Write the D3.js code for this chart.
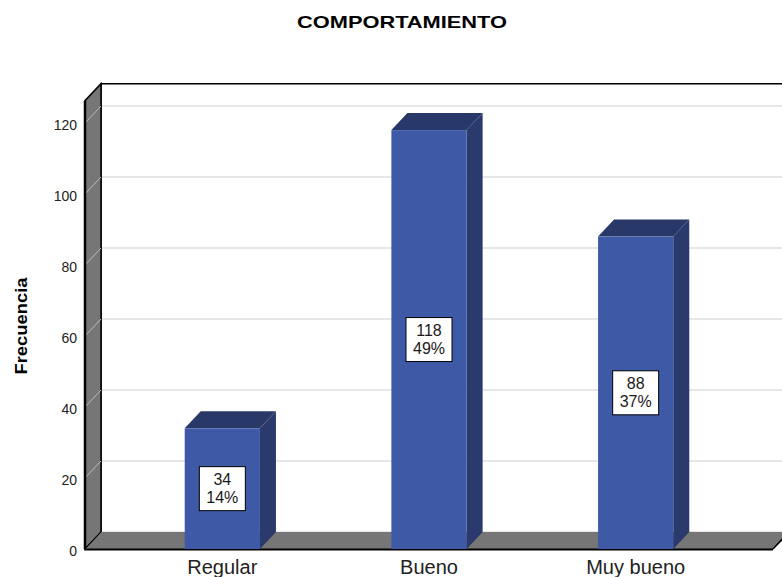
<!DOCTYPE html>
<html>
<head>
<meta charset="utf-8">
<script src="https://cdn.jsdelivr.net/npm/d3@7"></script>
<style>
  body { margin: 0; background: #fff; }
  svg { display: block; font-family: "Liberation Sans", Arial, sans-serif; }
</style>
</head>
<body>
<div id="chart"></div>
<script>
// data
const categories = ["Regular", "Bueno", "Muy bueno"];
const counts = [34, 118, 88];
const percents = ["14%", "49%", "37%"];
const yTicks = [0, 20, 40, 60, 80, 100, 120];

const width = 782, height = 577;
const depthX = 16, depthY = 17;
const left = 85, floorY = 549;

const svg = d3.select("#chart").append("svg")
  .attr("width", width)
  .attr("height", height);

// front-plane scale
const y = d3.scaleLinear().domain([0, 120]).range([floorY, 123]);
const yTop = 126.3;
const x = d3.scaleBand().domain(categories).range([119, 739]).paddingInner(0.636).paddingOuter(0.318);

// back wall
const backLeft = left + depthX;
svg.append("rect")
  .attr("x", backLeft).attr("y", y(yTop) - depthY)
  .attr("width", width + 20 - backLeft).attr("height", y(0) - y(yTop))
  .attr("fill", "#fff");

// grid on back wall
svg.append("g").selectAll("line")
  .data(yTicks)
  .join("line")
  .attr("x1", backLeft).attr("x2", width + 20)
  .attr("y1", d => y(d) - depthY).attr("y2", d => y(d) - depthY)
  .attr("stroke", "#cfcfcf").attr("stroke-width", 1.2);

// top and left border of back wall
svg.append("path")
  .attr("d", `M${backLeft},${y(0) - depthY}V${y(yTop) - depthY}H${width + 20}`)
  .attr("fill", "none").attr("stroke", "#000").attr("stroke-width", 1.5);

// left wall
svg.append("path")
  .attr("d", `M${left},${y(0)}L${left},${y(yTop)}L${backLeft},${y(yTop) - depthY}L${backLeft},${y(0) - depthY}Z`)
  .attr("fill", "#767676").attr("stroke", "#000").attr("stroke-width", 1.5);

svg.append("g").selectAll("line")
  .data(yTicks.filter(d => d > 0))
  .join("line")
  .attr("x1", left).attr("x2", backLeft)
  .attr("y1", d => y(d)).attr("y2", d => y(d) - depthY)
  .attr("stroke", "#bdbdbd").attr("stroke-width", 1);

svg.append("line")
  .attr("x1", left).attr("x2", left)
  .attr("y1", y(yTop)).attr("y2", y(0))
  .attr("stroke", "#000").attr("stroke-width", 2.5);

// floor
svg.append("path")
  .attr("d", `M${left},${y(0)}L${backLeft},${y(0) - depthY}L${width + 10},${y(0) - depthY}L${773},${y(0)}Z`)
  .attr("fill", "#767676");
svg.append("path")
  .attr("d", `M${left},${y(0)}L${backLeft},${y(0) - depthY}`)
  .attr("stroke", "#000").attr("stroke-width", 1);
svg.append("line")
  .attr("x1", left).attr("x2", 773)
  .attr("y1", y(0) + 0.5).attr("y2", y(0) + 0.5)
  .attr("stroke", "#000").attr("stroke-width", 2);
svg.append("line")
  .attr("x1", 773).attr("x2", 773 + depthX)
  .attr("y1", y(0)).attr("y2", y(0) - depthY)
  .attr("stroke", "#000").attr("stroke-width", 1.5);

// y tick labels
svg.append("g").selectAll("text")
  .data(yTicks)
  .join("text")
  .attr("x", 77).attr("y", d => y(d) + 3)
  .attr("text-anchor", "end").attr("dominant-baseline", "middle")
  .attr("font-size", 14).attr("fill", "#222")
  .text(d => d);

// bars
const bars = svg.append("g").selectAll("g")
  .data(categories)
  .join("g");

bars.append("path")
  .attr("d", (d, i) => {
    const x1 = x(d) + x.bandwidth(), t = y(counts[i]);
    return `M${x1},${t}L${x1 + depthX},${t - depthY}L${x1 + depthX},${y(0) - depthY}L${x1},${y(0)}Z`;
  })
  .attr("fill", "#2a3a6c");

bars.append("path")
  .attr("d", (d, i) => {
    const x0 = x(d), x1 = x(d) + x.bandwidth(), t = y(counts[i]);
    return `M${x0},${t}L${x0 + depthX},${t - depthY}L${x1 + depthX},${t - depthY}L${x1},${t}Z`;
  })
  .attr("fill", "#283868");

bars.append("rect")
  .attr("x", d => x(d))
  .attr("y", (d, i) => y(counts[i]))
  .attr("width", x.bandwidth())
  .attr("height", (d, i) => y(0) - y(counts[i]))
  .attr("fill", "#3e59a6");

// value boxes
bars.each(function (d, i) {
  const g = d3.select(this);
  const cx = x(d) + x.bandwidth() / 2;
  const cy = (y(counts[i]) + y(0)) / 2;
  const w = 46, h = 44;
  g.append("rect")
    .attr("x", cx - w / 2).attr("y", cy - h / 2).attr("width", w).attr("height", h)
    .attr("fill", "#fff").attr("stroke", "#000").attr("stroke-width", 1);
  g.append("text")
    .attr("x", cx).attr("y", cy - 3.5)
    .attr("text-anchor", "middle")
    .attr("font-size", 16).attr("fill", "#1a1a1a")
    .text(counts[i]);
  g.append("text")
    .attr("x", cx).attr("y", cy + 14.5)
    .attr("text-anchor", "middle")
    .attr("font-size", 16).attr("fill", "#1a1a1a")
    .text(percents[i]);
});

// x labels
svg.append("g").selectAll("text")
  .data(categories)
  .join("text")
  .attr("x", d => x(d) + x.bandwidth() / 2)
  .attr("y", 574)
  .attr("text-anchor", "middle")
  .attr("font-size", 20).attr("fill", "#222")
  .text(d => d);

// title
svg.append("text")
  .attr("x", 402).attr("y", 28)
  .attr("text-anchor", "middle")
  .attr("font-size", 17).attr("font-weight", "bold")
  .attr("textLength", 210).attr("lengthAdjust", "spacingAndGlyphs")
  .text("COMPORTAMIENTO");

// y title
svg.append("text")
  .attr("transform", "translate(27,326) rotate(-90)")
  .attr("text-anchor", "middle")
  .attr("font-size", 17).attr("font-weight", "bold")
  .attr("textLength", 97).attr("lengthAdjust", "spacingAndGlyphs")
  .text("Frecuencia");
</script>
</body>
</html>
